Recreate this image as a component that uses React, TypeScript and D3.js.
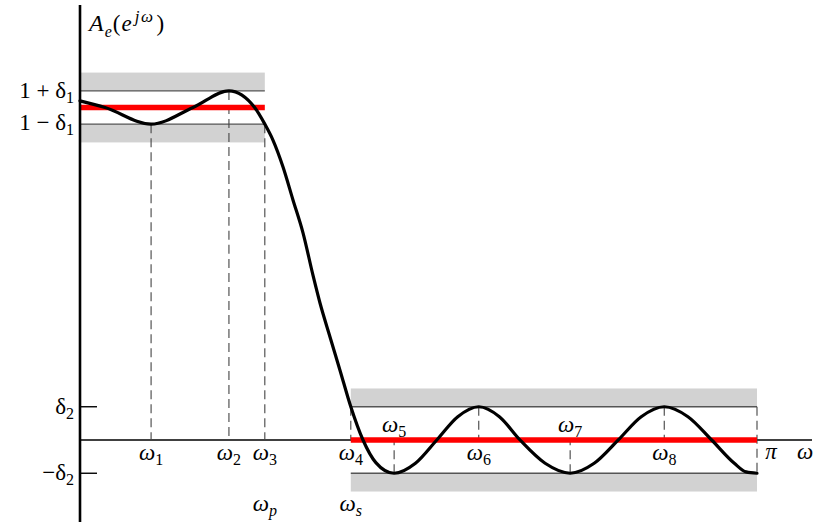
import React from "react";
import * as d3 from "d3";

// ---- data (frequencies as fractions of π, amplitudes in units of the passband gain) ----
const delta1 = 0.05;
const delta2 = 0.1;
const bandMargin = 0.055;
const omegaP = 0.273;
const omegaS = 0.4;

const extremalFreqs = [0.105, 0.22, 0.273, 0.4, 0.464, 0.589, 0.724, 0.863, 1.0];
const extremalLabels = ["1", "2", "3", "4", "5", "6", "7", "8", "π"];

const curveW = [
  0, 0.037, 0.105, 0.167, 0.22, 0.258, 0.273, 0.285, 0.2999, 0.3146, 0.3294,
  0.3442, 0.3545, 0.3693, 0.384, 0.4, 0.418, 0.437, 0.464, 0.4955, 0.527,
  0.558, 0.589, 0.6195, 0.65, 0.687, 0.724, 0.7595, 0.795, 0.829, 0.863,
  0.898, 0.933, 0.9665, 0.984, 1.0,
];
const curveA = [
  1.02, 1.0, 0.95, 1.0, 1.05, 1.0, 0.95, 0.902, 0.821, 0.722, 0.623,
  0.495, 0.412, 0.31, 0.21, 0.1, 0, -0.068, -0.1, -0.07, 0,
  0.07, 0.1, 0.07, 0, -0.07, -0.1, -0.07, 0, 0.07, 0.1,
  0.07, 0, -0.07, -0.096, -0.1,
];

const W = 817;
const H = 522;
const FONT = "'Liberation Serif', 'DejaVu Serif', serif";
const FS = 23;
const SUB = 16;

export default function App() {
  const x = d3.scaleLinear().domain([0, 1]).range([80, 757]);
  const y = d3.scaleLinear().domain([0, 1]).range([440, 107.5]);

  const pts: [number, number][] = curveW.map((w, i) => [w, curveA[i]]);
  const line = d3
    .line<[number, number]>()
    .x((d) => x(d[0]))
    .y((d) => y(d[1]))
    .curve(d3.curveMonotoneX);

  // extremal values at each labelled frequency
  const extVal = (i: number) => {
    if (i === 0 || i === 2) return 1 - delta1;
    if (i === 1) return 1 + delta1;
    return i % 2 === 1 ? delta2 : -delta2;
  };

  const bandLine = "#555";
  const grey = "#d2d2d2";

  return (
    <svg
      width={W}
      height={H}
      style={{ position: "absolute", left: 0, top: 0, background: "#fff" }}
      fontFamily={FONT}
      fontSize={FS}
    >
      {/* tolerance bands */}
      <rect x={x(0)} y={y(1 + delta1 + bandMargin)} width={x(omegaP) - x(0)}
        height={y(1 + delta1) - y(1 + delta1 + bandMargin)} fill={grey} />
      <rect x={x(0)} y={y(1 - delta1)} width={x(omegaP) - x(0)}
        height={y(1 - delta1 - bandMargin) - y(1 - delta1)} fill={grey} />
      <rect x={x(omegaS)} y={y(delta2 + bandMargin)} width={x(1) - x(omegaS)}
        height={y(delta2) - y(delta2 + bandMargin)} fill={grey} />
      <rect x={x(omegaS)} y={y(-delta2)} width={x(1) - x(omegaS)}
        height={y(-delta2 - bandMargin) - y(-delta2)} fill={grey} />

      {/* band edge lines */}
      {[1 + delta1, 1 - delta1].map((v, i) => (
        <line key={"p" + i} x1={x(0)} x2={x(omegaP)} y1={y(v)} y2={y(v)} stroke={bandLine} strokeWidth={1.4} />
      ))}
      {[delta2, -delta2].map((v, i) => (
        <line key={"s" + i} x1={x(omegaS)} x2={x(1)} y1={y(v)} y2={y(v)} stroke={bandLine} strokeWidth={1.4} />
      ))}

      {/* x axis */}
      <line x1={x(0)} x2={812} y1={y(0)} y2={y(0)} stroke="#000" strokeWidth={1.6} />

      {/* dashed verticals */}
      {extremalFreqs.map((w, i) => {
        const v = extVal(i);
        const y1 = i === 8 ? y(delta2) : y(v);
        const y2 = i === 8 ? y(-delta2) : y(0);
        return (
          <line key={"d" + i} x1={x(w)} x2={x(w)} y1={y1} y2={y2}
            stroke="#444" strokeWidth={1.1} strokeDasharray="9,5" />
        );
      })}

      {/* ideal response (red) */}
      <line x1={x(0)} x2={x(omegaP)} y1={y(1)} y2={y(1)} stroke="#ff0000" strokeWidth={5.5} />
      <line x1={x(omegaS)} x2={x(1)} y1={y(0)} y2={y(0)} stroke="#ff0000" strokeWidth={5.5} />

      {/* response curve */}
      <path d={line(pts) || ""} fill="none" stroke="#000" strokeWidth={3.2} strokeLinejoin="round" strokeLinecap="round" />

      {/* y axis */}
      <line x1={x(0)} x2={x(0)} y1={5} y2={H} stroke="#000" strokeWidth={2.6} />
      {/* δ2 ticks */}
      {[delta2, -delta2].map((v, i) => (
        <line key={"t" + i} x1={x(0)} x2={97} y1={y(v)} y2={y(v)} stroke="#000" strokeWidth={1.4} />
      ))}

      {/* y labels */}
      <text x={74} y={y(1 + delta1) + 7} textAnchor="end">
        1 + δ<tspan fontSize={SUB} dy={5}>1</tspan>
      </text>
      <text x={74} y={y(1 - delta1) + 6} textAnchor="end">
        1 − δ<tspan fontSize={SUB} dy={5}>1</tspan>
      </text>
      <text x={74} y={y(delta2) + 7} textAnchor="end">
        δ<tspan fontSize={SUB} dy={5}>2</tspan>
      </text>
      <text x={74} y={y(-delta2) + 7} textAnchor="end">
        −δ<tspan fontSize={SUB} dy={5}>2</tspan>
      </text>

      {/* y axis title */}
      <text x={89} y={31}>
        <tspan fontStyle="italic" fontSize={24}>A</tspan>
        <tspan fontStyle="italic" fontSize={SUB} dy={6} dx={1}>e</tspan>
        <tspan dy={-6} dx={1}>(</tspan>
        <tspan fontStyle="italic" dx={1}>e</tspan>
        <tspan fontStyle="italic" fontSize={17} dy={-9} dx={3} letterSpacing={1.5}>jω</tspan>
        <tspan dy={9} dx={2}>)</tspan>
      </text>

      {/* frequency labels */}
      {extremalFreqs.map((w, i) => {
        const above = i === 4 || i === 6;
        const by = above ? 432 : 460;
        if (i === 8) {
          return (
            <text key={"l" + i} x={x(w) + 14} y={459} textAnchor="middle" fontStyle="italic">π</text>
          );
        }
        return (
          <text key={"l" + i} x={x(w)} y={by} textAnchor="middle">
            <tspan fontStyle="italic">ω</tspan>
            <tspan fontSize={SUB} dy={5}>{extremalLabels[i]}</tspan>
          </text>
        );
      })}
      <text x={x(omegaP)} y={511} textAnchor="middle">
        <tspan fontStyle="italic">ω</tspan>
        <tspan fontStyle="italic" fontSize={SUB} dy={5}>p</tspan>
      </text>
      <text x={x(omegaS)} y={511} textAnchor="middle">
        <tspan fontStyle="italic">ω</tspan>
        <tspan fontStyle="italic" fontSize={SUB} dy={5}>s</tspan>
      </text>
      <text x={805} y={459} textAnchor="middle" fontStyle="italic">ω</text>
    </svg>
  );
}
